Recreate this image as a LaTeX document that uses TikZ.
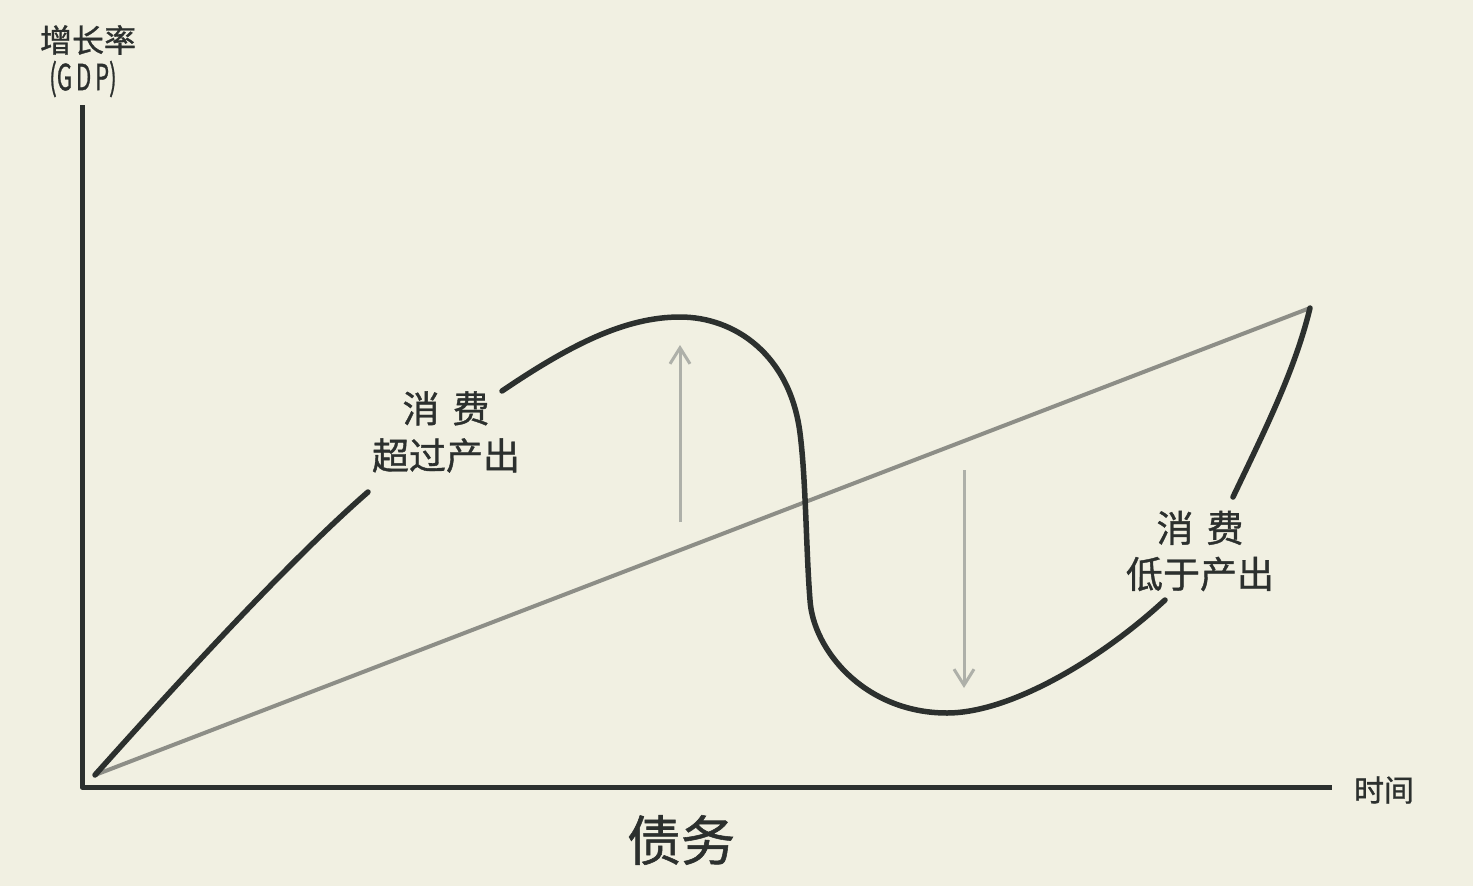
\documentclass[tikz,border=0pt]{standalone}
\usepackage{fontspec}
\setmainfont{Noto Sans CJK SC}[FakeBold=1]
\usetikzlibrary{arrows.meta}
\definecolor{paper}{HTML}{F1F0E2}
\definecolor{ink}{HTML}{2C302E}
\definecolor{trendgrey}{HTML}{8D8E87}
\definecolor{arrowgrey}{HTML}{AEB0A9}
\tikzset{
  tag/.style={inner sep=0pt, text=ink, align=center},
  axisline/.style={ink, line width=5pt, line join=round},
  wave/.style={ink, line width=5.5pt, line cap=round},
  shiftarrow/.style={arrowgrey, line width=3pt, -{Straight Barb[length=16pt,width=20pt,line width=3pt]}}
}
\begin{document}
\begin{tikzpicture}[x=1pt,y=-1pt]
    \fill[paper] (0,0) rectangle (1473,886);
    \useasboundingbox (0,0) rectangle (1473,886);
    % axes
    \coordinate (top) at (82,105);
    \coordinate (corner) at (82,787);
    \coordinate (right) at (1332,787);
    \draw[axisline] (top) -- (corner) -- (right);
    \node[tag, font=\fontsize{32pt}{34pt}\selectfont] (growth) at (88,40) {增长率};
    \node[tag, font=\fontsize{36pt}{40pt}\selectfont] (gdp) at (83,79) {\scalebox{0.62}[1]{(G\,D\,P)}};
    \node[tag, font=\fontsize{30pt}{32pt}\selectfont] (time) at (1384,790) {时间};
    \node[tag, font=\fontsize{54pt}{58pt}\selectfont] (debt) at (681,840) {债务};
    % trend
    \coordinate (start) at (95,775);
    \coordinate (end) at (1310,308);
    \draw[trendgrey, line width=4pt, line cap=round] (start) -- (end);
    % cycle
    \draw[wave] (start) .. controls (180,680) and (290,560) .. (368,492);
    \draw[wave] (502,391) .. controls (570,345) and (625,317) .. (680,317)
        .. controls (735,317) and (790,355) .. (800,433)
        .. controls (806,480) and (806,550) .. (810,600)
        .. controls (813,650) and (865,713) .. (947,713)
        .. controls (1010,713) and (1100,660) .. (1165,600);
    \draw[wave] (1233,497) .. controls (1265,430) and (1295,370) .. (end);
    \node[tag, font=\fontsize{37pt}{47pt}\selectfont] (above) at (446,432) {消\hspace{0.35em}费\\超过产出};
    \node[tag, font=\fontsize{37pt}{46pt}\selectfont] (below) at (1200,551) {消\hspace{0.35em}费\\低于产出};
    % shifts
    \coordinate (upfrom) at (680,522);
    \coordinate (upto) at (680,345);
    \coordinate (downfrom) at (964,470);
    \coordinate (downto) at (964,688);
    \draw[shiftarrow] (upfrom) -- (upto);
    \draw[shiftarrow] (downfrom) -- (downto);
\end{tikzpicture}
\end{document}
